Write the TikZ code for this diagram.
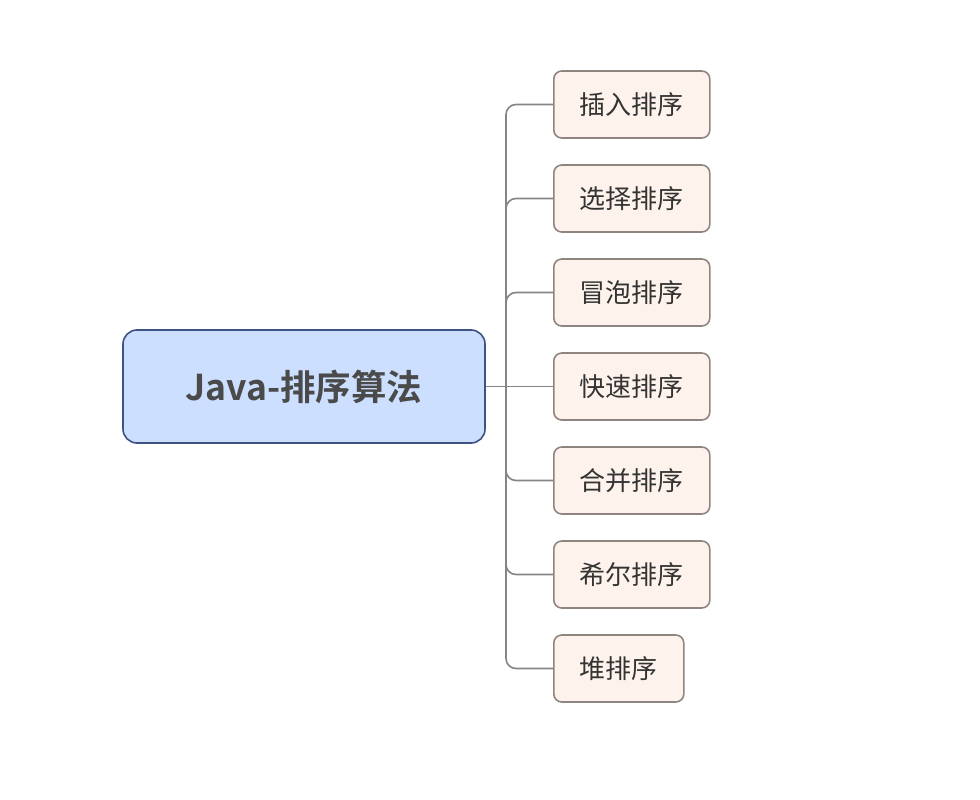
\documentclass[tikz,border=0pt]{standalone}
\usepackage{fontspec}
\newfontfamily\cjk{Noto Sans CJK SC}
\newfontfamily\cjkbold{Noto Sans CJK SC Bold}
\definecolor{rootfill}{HTML}{CCDFFF}
\definecolor{rootdraw}{HTML}{3E5283}
\definecolor{leaffill}{HTML}{FEF3EC}
\definecolor{leafdraw}{HTML}{8F8580}
\definecolor{branchgray}{HTML}{858585}
\definecolor{roottext}{HTML}{4A4A4A}
\definecolor{leaftext}{HTML}{333333}
\tikzset{
  rootbox/.style={draw=rootdraw, fill=rootfill, line width=1.6pt, rounded corners=14pt,
    minimum width=362pt, minimum height=113pt, text=roottext,
    font=\cjkbold\fontsize{35.5pt}{40pt}\selectfont},
  leafbox/.style={draw=leafdraw, fill=leaffill, line width=1.6pt, rounded corners=8pt,
    anchor=west, inner xsep=26pt, minimum height=67pt, text=leaftext,
    font=\cjk\fontsize{26pt}{30pt}\selectfont},
  branch/.style={draw=branchgray, line width=1.6pt, rounded corners=10pt}
}
\begin{document}
\begin{tikzpicture}[x=1pt, y=-1pt]
  % canvas
  \useasboundingbox (0,0) rectangle (980,800);

  % centre
  \node[rootbox] (root) at (304,386.5) {Java-排序算法};
  \coordinate (trunk) at (506,386.5);

  % leaves
  \foreach \name [count=\i] in {插入排序,选择排序,冒泡排序,快速排序,合并排序,希尔排序,堆排序}
    \node[leafbox] (leaf\i) at (553,{386.5+(\i-4)*94}) {\name};

  % branches
  \draw[branch] (root.east) -- (leaf4.west);
  \foreach \i in {1,2,3,5,6,7}
    \draw[branch] (trunk) |- (leaf\i.west);
\end{tikzpicture}
\end{document}
